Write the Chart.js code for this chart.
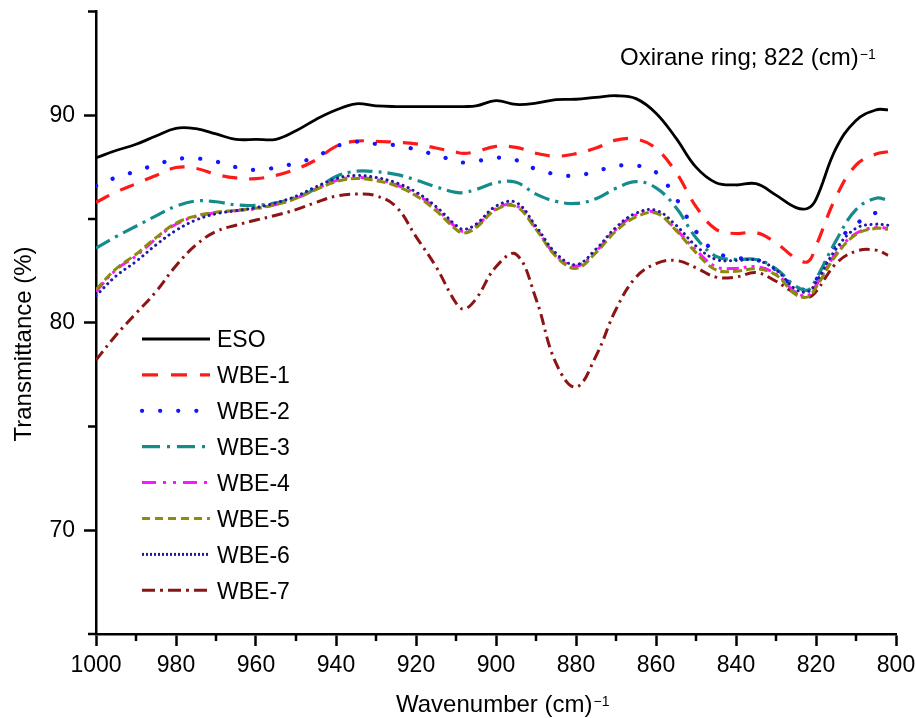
<!DOCTYPE html>
<html>
<head>
<meta charset="utf-8">
<script src="https://cdn.jsdelivr.net/npm/chart.js@4.4.0/dist/chart.umd.min.js"></script>
<style>
  html, body { margin: 0; padding: 0; background: #fff; }
  canvas { display: block; }
</style>
</head>
<body>
<canvas id="ftirChart" width="916" height="718"></canvas>
<script>
// wavenumber (cm-1)
const wavenumbers = [1000, 995, 990, 985, 980, 975, 970, 965, 960, 955, 950, 945, 940, 935, 930, 925, 920, 915, 910,
  908,
  905, 900, 895, 890, 885, 880, 875, 870, 865, 860, 855, 850, 845, 840, 835, 830, 825,
  822,
  820, 815, 810, 805,
  802];

const eso = [87.95, 88.3, 88.6, 89.0, 89.37, 89.35, 89.1, 88.84, 88.84, 88.84, 89.25, 89.8, 90.25, 90.55, 90.45, 90.42, 90.42, 90.42, 90.42,
  90.42,
  90.45, 90.7, 90.52, 90.58, 90.75, 90.77, 90.86, 90.94, 90.8, 90.1, 88.9, 87.5, 86.75, 86.64, 86.7, 86.15, 85.55,
  85.52,
  85.95, 88.4, 89.75, 90.26,
  90.26];

const wbe1 = [85.8, 86.3, 86.7, 87.1, 87.48, 87.44, 87.15, 86.98, 86.95, 87.1, 87.4, 87.85, 88.5, 88.75, 88.74, 88.7, 88.62, 88.42, 88.22,
  88.16,
  88.25, 88.5, 88.45, 88.17, 88.03, 88.15, 88.42, 88.8, 88.85, 88.4, 87.25, 85.6, 84.5, 84.3, 84.35, 83.85, 83.1,
  82.95,
  83.7, 86.06, 87.6, 88.13,
  88.24];

const wbe2 = [86.6, 87.0, 87.3, 87.62, 87.88, 87.92, 87.77, 87.5, 87.36, 87.48, 87.7, 88.0, 88.5, 88.72, 88.62, 88.55, 88.35, 88.08, 87.8,
  87.72,
  87.78, 87.95, 87.84, 87.4, 87.16, 87.08, 87.3, 87.55, 87.58, 87.25, 86.0, 84.4, 83.4, 83.13, 83.05, 82.55, 81.65,
  81.68,
  82.05, 83.8, 84.75, 85.3,
  85.3];

const wbe3 = [83.6, 84.15, 84.65, 85.15, 85.62, 85.87, 85.83, 85.68, 85.66, 85.78, 86.05, 86.45, 87.05, 87.3, 87.28, 87.15, 86.88, 86.55, 86.28,
  86.28,
  86.42, 86.75, 86.77, 86.2, 85.85, 85.75, 85.98, 86.48, 86.8, 86.5, 85.55, 84.1, 83.2, 83.05, 83.05, 82.6, 81.75,
  81.58,
  82.1, 83.95, 85.45, 86.0,
  85.9];

const wbe4 = [81.5, 82.55, 83.22, 84.05, 84.75, 85.12, 85.3, 85.4, 85.5, 85.7, 86.0, 86.45, 86.85, 87.0, 86.9, 86.65, 86.2, 85.5, 84.6,
  84.4,
  84.65, 85.5, 85.65, 84.55, 83.25, 82.72, 83.45, 84.5, 85.2, 85.32, 84.5, 83.5, 82.7, 82.62, 82.7, 82.35, 81.45,
  81.32,
  81.8, 83.35, 84.3, 84.6,
  84.55];

const wbe5 = [81.6, 82.6, 83.3, 84.1, 84.8, 85.15, 85.32, 85.42, 85.52, 85.7, 86.0, 86.42, 86.8, 86.95, 86.85, 86.6, 86.12, 85.4, 84.5,
  84.32,
  84.58, 85.45, 85.6, 84.5, 83.2, 82.62, 83.38, 84.42, 85.1, 85.28, 84.45, 83.38, 82.55, 82.48, 82.6, 82.3, 81.35,
  81.25,
  81.7, 83.25, 84.25, 84.55,
  84.5];

const wbe6 = [81.3, 82.25, 82.95, 83.75, 84.45, 84.95, 85.25, 85.4, 85.55, 85.78, 86.1, 86.55, 86.95, 87.1, 87.0, 86.75, 86.3, 85.6, 84.7,
  84.5,
  84.75, 85.62, 85.8, 84.65, 83.35, 82.8, 83.55, 84.6, 85.28, 85.42, 84.7, 83.7, 83.05, 83.0, 83.02, 82.55, 81.6,
  81.5,
  81.95, 83.55, 84.55, 84.75,
  84.7];

const wbe7 = [78.2, 79.4, 80.45, 81.5, 82.75, 83.75, 84.4, 84.7, 84.95, 85.18, 85.45, 85.8, 86.1, 86.2, 86.12, 85.6, 84.15, 82.7, 80.95,
  80.66,
  81.15, 82.7, 83.3, 81.15, 78.05, 76.9, 78.4, 80.65, 82.2, 82.85, 83.0, 82.65, 82.2, 82.2, 82.42, 82.0, 81.4,
  81.22,
  81.5, 82.85, 83.45, 83.5,
  83.25];

const seriesNames = ['ESO', 'WBE-1', 'WBE-2', 'WBE-3', 'WBE-4', 'WBE-5', 'WBE-6', 'WBE-7'];
const seriesValues = [eso, wbe1, wbe2, wbe3, wbe4, wbe5, wbe6, wbe7];

const xTickLabels = [1000, 980, 960, 940, 920, 900, 880, 860, 840, 820, 800];
const yTickLabels = [70, 80, 90];

const FONT = "'Liberation Sans', Arial, sans-serif";

// line looks, one per series
const lineStyles = [
  { color: '#000000', width: 2.8, dash: [], legendDash: [], cap: 'butt', legendCap: 'butt', order: 0 },
  { color: '#ff1a1a', width: 3.2, dash: [15, 12], legendDash: [16, 13], cap: 'butt', legendCap: 'butt', order: 6 },
  { color: '#1414ff', width: 4.2, dash: [0.1, 18], legendDash: [0.1, 18], cap: 'round', legendCap: 'round', order: 5 },
  { color: '#158c8c', width: 3.2, dash: [16, 6, 3, 6], legendDash: [18, 7, 3, 7], cap: 'butt', legendCap: 'butt', order: 4 },
  { color: '#ff14ff', width: 3.0, dash: [12, 5, 3, 5, 3, 5], legendDash: [14, 7, 3, 7, 3, 7], cap: 'butt', legendCap: 'butt', order: 3 },
  { color: '#8c8c0a', width: 3.0, dash: [9, 4], legendDash: [8, 5], cap: 'butt', legendCap: 'butt', order: 2 },
  { color: '#1e1e9c', width: 3.0, dash: [0.1, 5.5], legendDash: [2, 2], cap: 'round', legendCap: 'butt', order: 1 },
  { color: '#8b1414', width: 3.0, dash: [11, 5, 2.5, 5], legendDash: [13, 5, 3, 5], cap: 'butt', legendCap: 'butt', order: 7 }
];

const datasets = seriesNames.map((name, i) => ({
  label: name,
  data: wavenumbers.map((w, j) => ({ x: w, y: seriesValues[i][j] })),
  borderColor: lineStyles[i].color,
  borderWidth: lineStyles[i].width,
  borderDash: lineStyles[i].dash,
  borderCapStyle: lineStyles[i].cap,
  legendDash: lineStyles[i].legendDash,
  legendCap: lineStyles[i].legendCap,
  order: lineStyles[i].order,
  fill: false,
  pointRadius: 0,
  tension: 0.4
}));

function drawSupText(ctx, x, y, main, sup, size, supSize, rise) {
  ctx.font = size + 'px ' + FONT;
  ctx.textAlign = 'left';
  ctx.textBaseline = 'alphabetic';
  ctx.fillText(main, x, y);
  const w = ctx.measureText(main).width;
  ctx.font = supSize + 'px ' + FONT;
  ctx.fillText(sup, x + w + 1, y - rise);
}

const decorPlugin = {
  id: 'decor',
  afterDraw(chart) {
    const { ctx, chartArea, scales: { x, y } } = chart;
    ctx.save();
    ctx.strokeStyle = '#000';
    ctx.fillStyle = '#000';
    ctx.lineWidth = 2.5;

    // minor ticks
    x.ticks.forEach(t => {
      if (xTickLabels.includes(t.value)) return;
      const px = x.getPixelForValue(t.value);
      ctx.beginPath();
      ctx.moveTo(px, chartArea.bottom);
      ctx.lineTo(px, chartArea.bottom + 7);
      ctx.stroke();
    });
    y.ticks.forEach(t => {
      if (yTickLabels.includes(t.value)) return;
      const py = y.getPixelForValue(t.value);
      ctx.beginPath();
      ctx.moveTo(chartArea.left - 8, py);
      ctx.lineTo(chartArea.left, py);
      ctx.stroke();
    });

    // axis titles
    ctx.save();
    ctx.translate(30.5, 344);
    ctx.rotate(-Math.PI / 2);
    ctx.font = '24px ' + FONT;
    ctx.textAlign = 'center';
    ctx.textBaseline = 'alphabetic';
    ctx.fillText('Transmittance (%)', 0, 0);
    ctx.restore();

    drawSupText(ctx, 396, 712, 'Wavenumber (cm)', '\u22121', 24, 14, 6);

    // note at top right
    drawSupText(ctx, 620, 65, 'Oxirane ring; 822 (cm)', '\u22121', 24, 14, 6);

    // legend inside the plot
    const lx = chartArea.left + 46;
    chart.data.datasets.forEach((ds, i) => {
      const ly = 339 + i * 35.9;
      ctx.save();
      ctx.strokeStyle = ds.borderColor;
      ctx.lineWidth = ds.borderWidth;
      ctx.lineCap = ds.legendCap;
      ctx.setLineDash(ds.legendDash);
      ctx.beginPath();
      ctx.moveTo(lx, ly);
      ctx.lineTo(lx + 68, ly);
      ctx.stroke();
      ctx.restore();
      ctx.font = '23px ' + FONT;
      ctx.textAlign = 'left';
      ctx.textBaseline = 'middle';
      ctx.fillText(ds.label, lx + 75, ly + 2);
    });
    ctx.restore();
  }
};

new Chart(document.getElementById('ftirChart').getContext('2d'), {
  type: 'line',
  data: { datasets: datasets },
  options: {
    responsive: false,
    animation: false,
    layout: { padding: { top: 11.5, right: 20, left: 0, bottom: 0 } },
    plugins: { legend: { display: false }, tooltip: { enabled: false } },
    scales: {
      x: {
        type: 'linear',
        reverse: true,
        min: 800,
        max: 1000,
        afterFit: s => { s.height = 84; s.paddingLeft = 0; s.paddingRight = 0; },
        border: { display: true, color: '#000', width: 2.5 },
        grid: {
          drawOnChartArea: false,
          drawTicks: true,
          tickLength: 12,
          tickWidth: 2.5,
          tickColor: c => (c.tick && xTickLabels.includes(c.tick.value)) ? '#000' : 'rgba(0,0,0,0)'
        },
        ticks: {
          stepSize: 10,
          autoSkip: false,
          maxRotation: 0,
          padding: 6,
          color: '#000',
          font: { family: FONT, size: 23 },
          callback: v => xTickLabels.includes(v) ? String(v) : ''
        }
      },
      y: {
        min: 65,
        max: 95,
        afterFit: s => { s.width = 96; s.paddingTop = 0; s.paddingBottom = 0; },
        border: { display: true, color: '#000', width: 2.5 },
        grid: {
          drawOnChartArea: false,
          drawTicks: true,
          tickLength: 12,
          tickWidth: 2.5,
          tickColor: c => (c.tick && yTickLabels.includes(c.tick.value)) ? '#000' : 'rgba(0,0,0,0)'
        },
        ticks: {
          stepSize: 5,
          autoSkip: false,
          padding: 9,
          color: '#000',
          font: { family: FONT, size: 23 },
          callback: v => yTickLabels.includes(v) ? String(v) : ''
        }
      }
    }
  },
  plugins: [decorPlugin]
});
</script>
</body>
</html>
